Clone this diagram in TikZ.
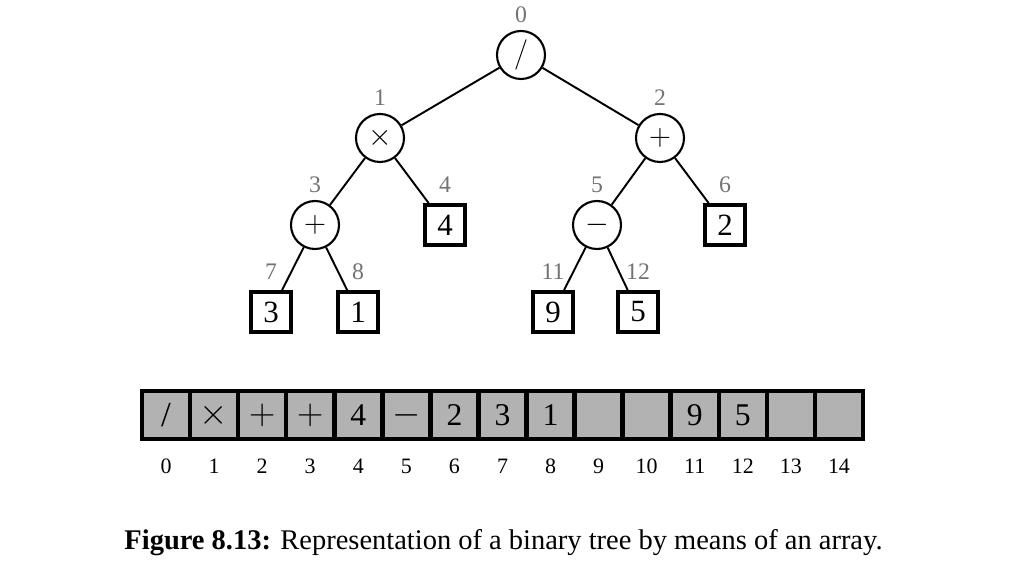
\documentclass[tikz,border=0pt]{standalone}
\usepackage{fontspec}
\setmainfont{Liberation Serif}
\begin{document}
\begin{tikzpicture}[
		op/.style={circle,draw,line width=1.2pt,minimum size=0.96cm,inner sep=0pt,font=\fontsize{19}{19}\selectfont},
		leaf/.style={rectangle,draw,line width=2.2pt,minimum size=0.8cm,inner sep=0pt,font=\fontsize{17.6}{18}\selectfont},
		idx/.style={text=black!55,font=\fontsize{13.5}{14}\selectfont,inner sep=0pt},
		cell/.style={rectangle,draw,fill=black!30,line width=2.6pt,minimum width=0.9614cm,minimum height=0.955cm,inner sep=0pt,font=\fontsize{18}{18}\selectfont},
		cellop/.style={cell,font=\fontsize{22}{22}\selectfont},
		cellnum/.style={font=\fontsize{12.5}{13}\selectfont,inner sep=0pt},
		edge/.style={line width=1.1pt}
	]
		\useasboundingbox (0,0) rectangle (20.7,11.38);
		% Treet
		\node[op] (n0) at (10.42,10.28) {$/$};
		\node[op] (n1) at (7.60,8.62) {$\times$};
		\node[op] (n2) at (13.20,8.62) {$+$};
		\node[op] (n3) at (6.30,6.88) {$+$};
		\node[leaf] (n4) at (8.90,6.88) {4};
		\node[op] (n5) at (11.94,6.88) {$-$};
		\node[leaf] (n6) at (14.50,6.88) {2};
		\node[leaf] (n7) at (5.42,5.14) {3};
		\node[leaf] (n8) at (7.16,5.14) {1};
		\node[leaf] (n11) at (11.06,5.14) {9};
		\node[leaf] (n12) at (12.76,5.14) {5};
		% Kanter
		\foreach \a/\b in {n0/n1,n0/n2,n1/n3,n1/n4,n2/n5,n2/n6,n3/n7,n3/n8,n5/n11,n5/n12}
			\draw[edge] (\a) -- (\b);
		% Indekser i treet
		\foreach \n in {0,1,2,3,4,5,6,7,8,11,12}
			\node[idx] (l\n) at ([yshift=0.8cm]n\n.center) {\n};
		% Tabellen
		\foreach \s/\v [count=\i from 0] in {cell/{\fontsize{20}{20}\selectfont /},cellop/{$\times$},cellop/{$+$},cellop/{$+$},cell/4,cellop/{$-$},cell/2,cell/3,cell/1,cell/{},cell/{},cell/9,cell/5,cell/{},cell/{}} {
			\node[\s] (c\i) at (3.32+0.9614*\i,3.08) {\v};
			\node[cellnum] (p\i) at (3.32+0.9614*\i,2.06) {\i};
		}
		% Figurtekst
		\node (cap) at (10.07,0.52) {\fontsize{16.2}{19}\selectfont\textbf{Figure 8.13:} Representation of a binary tree by means of an array.};
	\end{tikzpicture}
\end{document}
